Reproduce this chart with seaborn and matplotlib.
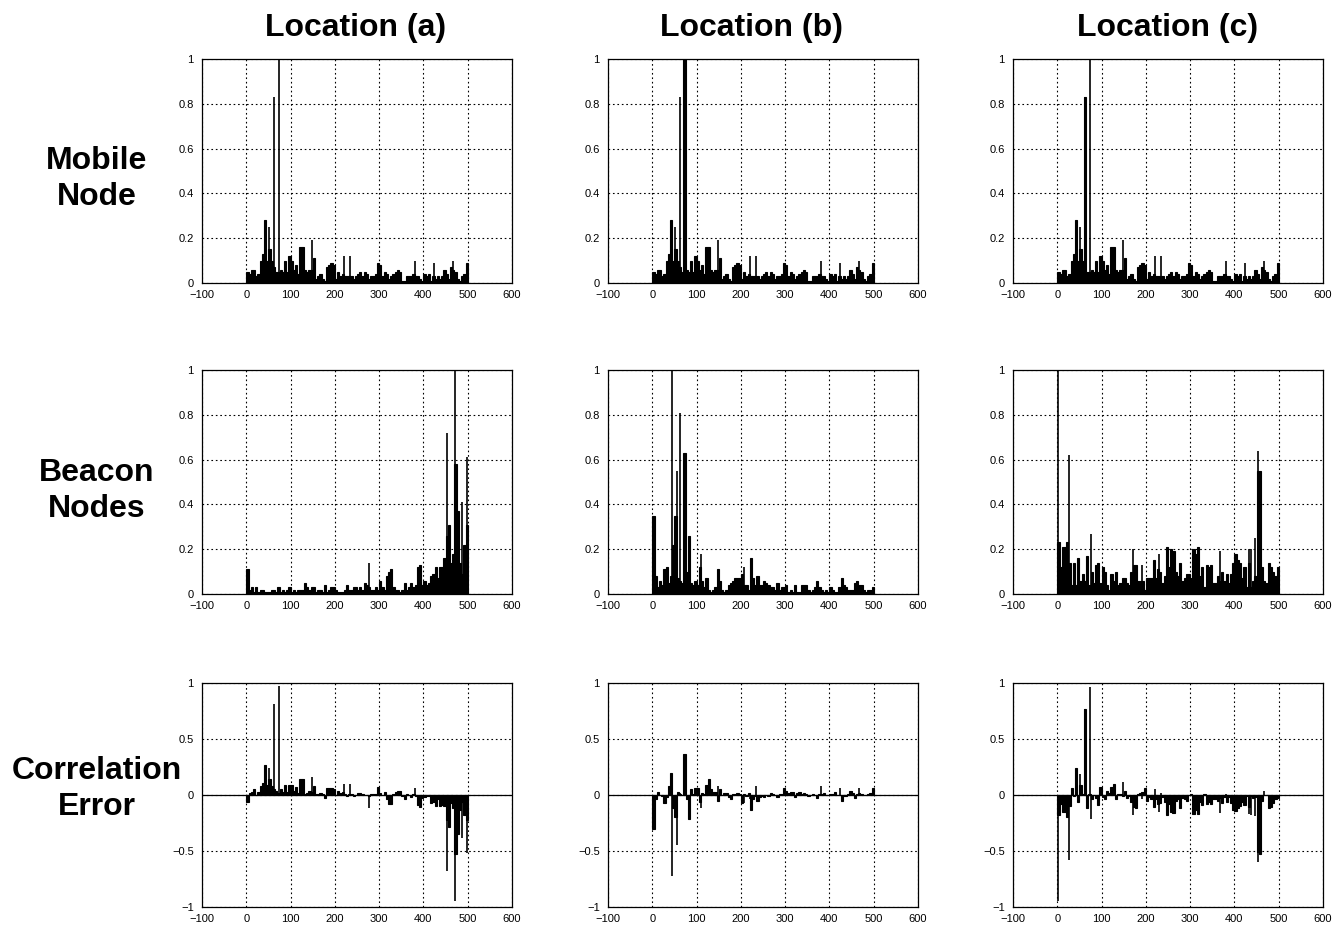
import numpy as np
import pandas as pd
import matplotlib
matplotlib.use("Agg")
import matplotlib.pyplot as plt
import seaborn as sns

# ---------------- data ----------------
locations = ["Location (a)", "Location (b)", "Location (c)"]
row_names = ["Mobile\nNode", "Beacon\nNodes", "Correlation\nError"]

bin_edges = np.arange(0, 505, 5)          # 5-unit bins over 0..500
bin_centers = bin_edges[:-1] + 2.5

# mobile node signal (same mobile node seen from every location)
mobile_node = [
    .05, .04, .06, .06, .03, .04, .10, .13, .28, .10,
    .15, .10, .07, .05, .05, .06, .05, .10, .05, .12,
    .10, .06, .08, .04, .16, .16, .06, .05, .06, .06,
    .11, .02, .03, .04, .02, .01, .07, .08, .09, .08,
    .02, .05, .03, .04, .03, .03, .03, .03, .02, .03,
    .04, .05, .03, .05, .04, .02, .03, .03, .04, .09,
    .08, .03, .05, .04, .02, .03, .04, .05, .06, .05,
    .01, .01, .03, .03, .03, .04, .03, .03, .02, .01,
    .04, .03, .04, .01, .03, .02, .03, .02, .03, .06,
    .04, .02, .07, .06, .05, .02, .01, .03, .04, .09,
]
mobile_spike_x = [51, 63, 74, 149, 221, 234, 380, 423, 466]
mobile_spike_y = [.25, .83, 1.0, .19, .12, .12, .10, .09, .10]
# small per-location differences of the mobile trace (bin start -> value)
mobile_bin_changes = [{}, {70: 1.0}, {60: 0.83}]

beacon_a = [
    .11, .02, .03, .01, .03, .01, .02, .02, .01, .01,
    .01, .02, .02, .01, .03, .01, .02, .01, .02, .03,
    .01, .02, .01, .02, .02, .02, .05, .03, .02, .03,
    .03, .01, .02, .02, .01, .04, .01, .02, .03, .03,
    .02, .01, .01, .01, .02, .04, .02, .02, .03, .03,
    .02, .03, .02, .05, .04, .03, .02, .02, .03, .02,
    .06, .03, .02, .08, .10, .11, .03, .02, .02, .01,
    .02, .05, .02, .03, .05, .03, .04, .12, .13, .04,
    .06, .04, .05, .08, .09, .12, .07, .12, .12, .16,
    .26, .31, .14, .18, .58, .37, .14, .09, .22, .31,
]
beacon_a_spike_x = [278, 453, 472, 486, 499]
beacon_a_spike_y = [.14, .72, 1.0, .41, .61]

beacon_b = [
    .35, .08, .03, .06, .04, .11, .12, .05, .08, .22,
    .35, .07, .06, .05, .63, .10, .26, .05, .04, .06,
    .04, .12, .06, .03, .07, .02, .01, .02, .03, .11,
    .06, .02, .01, .02, .04, .05, .06, .07, .07, .07,
    .09, .04, .04, .02, .16, .07, .04, .08, .04, .04,
    .06, .05, .04, .03, .03, .02, .05, .02, .03, .03,
    .04, .01, .02, .01, .04, .01, .01, .04, .04, .04,
    .02, .01, .02, .03, .06, .03, .02, .01, .02, .01,
    .03, .02, .01, .01, .03, .07, .04, .03, .02, .02,
    .02, .05, .06, .04, .04, .02, .01, .02, .02, .03,
]
beacon_b_spike_x = [44, 56, 63, 109, 208]
beacon_b_spike_y = [1.0, .55, .81, .18, .12]

beacon_c = [
    .23, .12, .21, .21, .23, .14, .04, .14, .04, .16,
    .06, .09, .06, .17, .04, .10, .05, .13, .14, .05,
    .12, .10, .04, .02, .09, .06, .10, .04, .05, .07,
    .07, .05, .04, .10, .13, .13, .06, .06, .06, .02,
    .07, .07, .07, .15, .07, .11, .10, .05, .08, .21,
    .12, .20, .19, .10, .08, .14, .06, .07, .09, .09,
    .07, .20, .18, .21, .08, .12, .03, .13, .12, .13,
    .05, .05, .08, .06, .10, .06, .09, .05, .09, .14,
    .18, .15, .14, .07, .12, .03, .14, .03, .06, .08,
    .55, .55, .12, .06, .05, .14, .12, .10, .08, .12,
]
beacon_c_spike_x = [0.5, 26, 76, 171, 192, 230, 368, 432, 437, 447, 453]
beacon_c_spike_y = [1.0, .62, .27, .20, .13, .18, .19, .20, .20, .25, .64]

beacons = [
    (beacon_a, beacon_a_spike_x, beacon_a_spike_y),
    (beacon_b, beacon_b_spike_x, beacon_b_spike_y),
    (beacon_c, beacon_c_spike_x, beacon_c_spike_y),
]


def mobile_for(loc):
    base = list(mobile_node)
    for start, v in mobile_bin_changes[loc].items():
        base[start // 5] = v
    return base


def value_at(x, base, sx, sy):
    if x in sx:
        return sy[sx.index(x)]
    return base[min(int(x // 5), len(base) - 1)]


def correlation_error(m, msx, msy, b, bsx, bsy):
    """Correlation error = mobile-node signal minus beacon-node signal."""
    base = list(np.array(m) - np.array(b))
    xs = sorted(set(msx) | set(bsx))
    ys = [value_at(x, m, msx, msy) - value_at(x, b, bsx, bsy) for x in xs]
    return base, xs, ys


# ---------------- figure ----------------
sns.set_theme(style="white")
plt.rcParams["font.family"] = ["Liberation Sans", "DejaVu Sans"]
plt.rcParams["axes.unicode_minus"] = True
plt.rcParams["text.color"] = "black"

W, H = 1336, 930
fig = plt.figure(figsize=(W / 100, H / 100), dpi=100)

col_left = [202, 608, 1013]
row_top = [59, 370, 683]
ax_w, ax_h = 310, 224


def draw(ax, base, sx, sy, signed=False):
    df = pd.DataFrame({"x": bin_centers, "v": np.asarray(base, dtype=float)})
    sns.histplot(data=df, x="x", weights="v", binwidth=5, binrange=(0, 500),
                 color="black", alpha=1, edgecolor="black", linewidth=0.8,
                 ax=ax)
    ax.vlines(sx, 0, sy, colors="black", linewidth=1.2, zorder=3)
    ax.set_xlim(-100, 600)
    ax.set_xticks(range(-100, 601, 100))
    if signed:
        ax.axhline(0, color="black", linewidth=0.9, zorder=4)
        ax.set_ylim(-1, 1)
        ax.set_yticks([-1, -0.5, 0, 0.5, 1])
        ax.set_yticklabels(["\u22121", "\u22120.5", "0", "0.5", "1"])
    else:
        ax.set_ylim(0, 1)
        ax.set_yticks([0, 0.2, 0.4, 0.6, 0.8, 1])
        ax.set_yticklabels(["0", "0.2", "0.4", "0.6", "0.8", "1"])
    ax.set_xlabel("")
    ax.set_ylabel("")
    ax.grid(True, linestyle=(0, (1.5, 2.5)), color="black", linewidth=0.8)
    ax.tick_params(axis="both", direction="in", length=3, labelsize=8,
                   colors="black")
    ax.tick_params(axis="y", pad=6)
    ax.tick_params(axis="x", pad=5)
    for s in ax.spines.values():
        s.set_visible(True)
        s.set_color("black")
        s.set_linewidth(0.9)


for c in range(3):
    m = mobile_for(c)
    b, bsx, bsy = beacons[c]
    err, esx, esy = correlation_error(m, mobile_spike_x, mobile_spike_y,
                                      b, bsx, bsy)
    panels = [
        (m, mobile_spike_x, mobile_spike_y, False),
        (b, bsx, bsy, False),
        (err, esx, esy, True),
    ]
    for r in range(3):
        l, t = col_left[c], row_top[r]
        ax = fig.add_axes([l / W, 1 - (t + ax_h) / H, ax_w / W, ax_h / H])
        base, sx, sy, signed = panels[r]
        draw(ax, base, sx, sy, signed)

title_x = [356, 751, 1168]
for c in range(3):
    fig.text(title_x[c] / W, 1 - 28 / H, locations[c], ha="center", va="center",
             fontsize=23, fontweight="bold", color="black")

row_y = [179, 491, 789]
for r in range(3):
    fig.text(97 / W, 1 - row_y[r] / H, row_names[r], ha="center", va="center",
             fontsize=23, fontweight="bold", linespacing=1.25, color="black")

fig.savefig("out.png", dpi=100)
